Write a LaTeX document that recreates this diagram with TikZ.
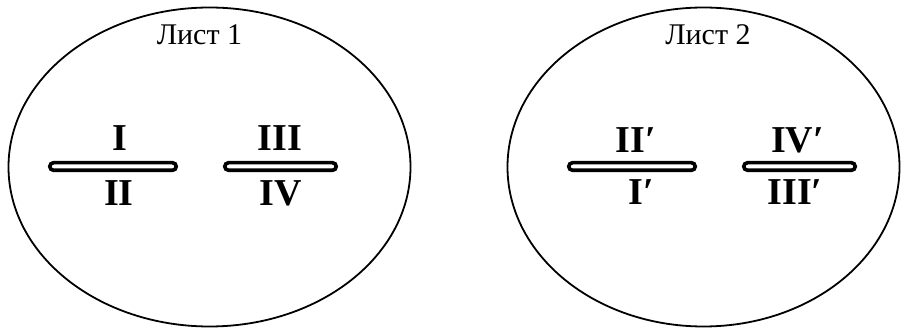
\documentclass[tikz,border=0pt]{standalone}
\usepackage{fontspec}
\setmainfont{Liberation Serif}
\usetikzlibrary{shapes.geometric,shapes.misc}
\begin{document}
\begin{tikzpicture}[x=1pt,y=-1pt,
  sheet/.style={draw,ellipse,line width=1.8pt,inner sep=0pt},
  bar/.style={draw,rounded rectangle,line width=3.6pt,minimum height=7.6pt,inner sep=0pt,anchor=center},
  num/.style={anchor=base,inner sep=0pt,font=\fontsize{38}{42}\selectfont\bfseries},
  title/.style={anchor=base,inner sep=0pt,font=\fontsize{30}{34}\selectfont}]
\useasboundingbox (0,0) rectangle (901,328);
% sheets
\node[sheet,minimum width=402pt,minimum height=319pt] (s1) at (209.5,167) {};
\node[sheet,minimum width=392pt,minimum height=319pt] (s2) at (703.5,167) {};
% titles
\node[title] (t1) at (199.5,45) {Лист 1};
\node[title] (t2) at (708,45) {Лист 2};
% bars
\node[bar,minimum width=126.5pt] (b1) at (113,166.5) {};
\node[bar,minimum width=111.5pt] (b2) at (280.5,166.5) {};
\node[bar,minimum width=126.5pt] (b3) at (632,166.5) {};
\node[bar,minimum width=111.5pt] (b4) at (799.5,166.5) {};
% numerals
\node[num] (n1) at (119.5,151) {I};
\node[num] (n2) at (119,206) {II};
\node[num] (n3) at (280,151) {III};
\node[num] (n4) at (281,206) {IV};
\node[num] (n5) at (636,153) {II′};
\node[num] (n6) at (641,205) {I′};
\node[num] (n7) at (797.5,153) {IV′};
\node[num] (n8) at (795,205) {III′};
\end{tikzpicture}
\end{document}
